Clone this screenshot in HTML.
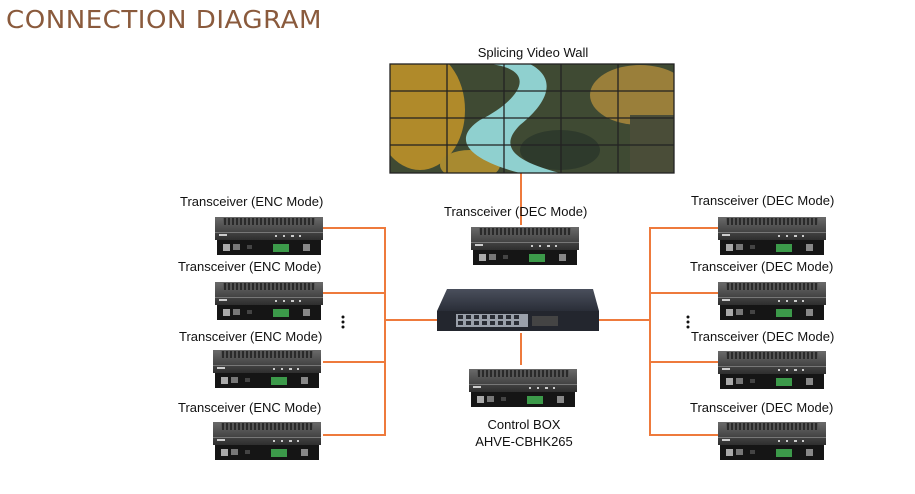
<!DOCTYPE html>
<html><head><meta charset="utf-8"><style>
html,body{margin:0;padding:0;background:#fff;width:915px;height:494px;overflow:hidden}
svg{display:block}
text{font-family:"Liberation Sans",Arial,sans-serif;fill:#111}
</style></head><body>
<svg width="915" height="494" viewBox="0 0 915 494" xmlns="http://www.w3.org/2000/svg">
<defs>
<linearGradient id="top" x1="0" y1="0" x2="0" y2="1"><stop offset="0" stop-color="#6a6a6a"/><stop offset="1" stop-color="#2e2e2e"/></linearGradient>
<linearGradient id="sw" x1="0" y1="0" x2="0" y2="1"><stop offset="0" stop-color="#4a4f5c"/><stop offset="1" stop-color="#2a2e38"/></linearGradient>
<pattern id="grill" width="4" height="6" patternUnits="userSpaceOnUse"><rect width="4" height="6" fill="#555"/><rect x="1" y="0" width="2" height="6" fill="#2a2a2a"/></pattern>
<clipPath id="wc"><rect x="390" y="64" width="284" height="109"/></clipPath>
<g id="dev">
<rect x="0" y="0" width="108" height="23" fill="url(#top)"/>
<rect x="8" y="1" width="92" height="7" fill="url(#grill)"/>
<rect x="0" y="15" width="108" height="1" fill="#777"/>
<rect x="4" y="17" width="8" height="2" fill="#ccc"/>
<rect x="60" y="18" width="2" height="2" fill="#ccc"/><rect x="68" y="18" width="2" height="2" fill="#ccc"/><rect x="76" y="18" width="3" height="2" fill="#ccc"/><rect x="84" y="18" width="2" height="2" fill="#ccc"/>
<rect x="2" y="23" width="104" height="15" fill="#151515"/>
<rect x="8" y="27" width="7" height="7" fill="#aaa"/><rect x="18" y="27" width="7" height="6" fill="#777"/>
<rect x="32" y="28" width="5" height="4" fill="#444"/>
<rect x="58" y="27" width="16" height="8" fill="#3c9a4a"/>
<rect x="88" y="27" width="7" height="7" fill="#888"/>
</g>
</defs>
<text x="6" y="28" font-size="25" style="fill:#8a5a3c;font-family:'DejaVu Sans',sans-serif;letter-spacing:0.5px" textLength="316" lengthAdjust="spacingAndGlyphs">CONNECTION DIAGRAM</text>

<g stroke="#ee7a3c" stroke-width="2" fill="none">
<path d="M323 228H385V435H323M323 293H385M323 362H385M385 320H437"/>
<path d="M718 228H650V435H718M718 293H650M718 362H650M650 320H598"/>
<path d="M521 172V225M521 333V365"/>
</g>

<text x="533" y="57" font-size="13" text-anchor="middle">Splicing Video Wall</text>
<g clip-path="url(#wc)">
<rect x="390" y="64" width="284" height="109" fill="#3f4a33"/>
<ellipse cx="420" cy="110" rx="45" ry="60" fill="#b08a2a"/>
<ellipse cx="640" cy="95" rx="50" ry="30" fill="#9a7f3a"/>
<ellipse cx="560" cy="150" rx="40" ry="20" fill="#2e3a2c"/>
<ellipse cx="470" cy="165" rx="30" ry="15" fill="#a88a30"/>
<path d="M490 64 C 540 70 520 100 480 120 C 450 140 470 160 520 173 L 560 173 C 510 160 500 145 520 125 C 545 105 560 80 530 64 Z" fill="#8fd0cf"/>
<rect x="630" y="115" width="44" height="58" fill="#4a4d38"/>
</g>
<g stroke="#222" stroke-width="1.3" fill="none">
<rect x="390" y="64" width="284" height="109"/>
<path d="M447 64V173M504 64V173M561 64V173M618 64V173M390 91H674M390 118H674M390 145H674"/>
</g>

<g font-size="13">
<text x="180" y="206">Transceiver (ENC Mode)</text>
<text x="178" y="271">Transceiver (ENC Mode)</text>
<text x="179" y="341">Transceiver (ENC Mode)</text>
<text x="178" y="412">Transceiver (ENC Mode)</text>
<text x="691" y="205">Transceiver (DEC Mode)</text>
<text x="690" y="271">Transceiver (DEC Mode)</text>
<text x="691" y="341">Transceiver (DEC Mode)</text>
<text x="690" y="412">Transceiver (DEC Mode)</text>
<text x="444" y="216">Transceiver (DEC Mode)</text>
<text x="524" y="429" text-anchor="middle">Control BOX</text>
<text x="524" y="446" text-anchor="middle">AHVE-CBHK265</text>
</g>
<g fill="#111"><circle cx="343" cy="317" r="1.5"/><circle cx="343" cy="322" r="1.5"/><circle cx="343" cy="327" r="1.5"/>
<circle cx="688" cy="317" r="1.5"/><circle cx="688" cy="322" r="1.5"/><circle cx="688" cy="327" r="1.5"/></g>

<use href="#dev" x="215" y="217"/>
<use href="#dev" x="215" y="282"/>
<use href="#dev" x="213" y="350"/>
<use href="#dev" x="213" y="422"/>
<use href="#dev" x="718" y="217"/>
<use href="#dev" x="718" y="282"/>
<use href="#dev" x="718" y="351"/>
<use href="#dev" x="718" y="422"/>
<use href="#dev" x="471" y="227"/>
<use href="#dev" x="469" y="369"/>

<polygon points="447,289 593,289 599,311 437,311" fill="url(#sw)"/>
<rect x="437" y="311" width="162" height="20" fill="#23262e"/>
<rect x="456" y="314" width="72" height="13" fill="#9aa0aa"/>
<g fill="#2a2d35"><rect x="458" y="315" width="5" height="4"/><rect x="466" y="315" width="5" height="4"/><rect x="474" y="315" width="5" height="4"/><rect x="482" y="315" width="5" height="4"/><rect x="490" y="315" width="5" height="4"/><rect x="498" y="315" width="5" height="4"/><rect x="506" y="315" width="5" height="4"/><rect x="514" y="315" width="5" height="4"/><rect x="458" y="321" width="5" height="4"/><rect x="466" y="321" width="5" height="4"/><rect x="474" y="321" width="5" height="4"/><rect x="482" y="321" width="5" height="4"/><rect x="490" y="321" width="5" height="4"/><rect x="498" y="321" width="5" height="4"/><rect x="506" y="321" width="5" height="4"/><rect x="514" y="321" width="5" height="4"/></g>
<rect x="532" y="316" width="26" height="10" fill="#444"/>
</svg>
</body></html>
